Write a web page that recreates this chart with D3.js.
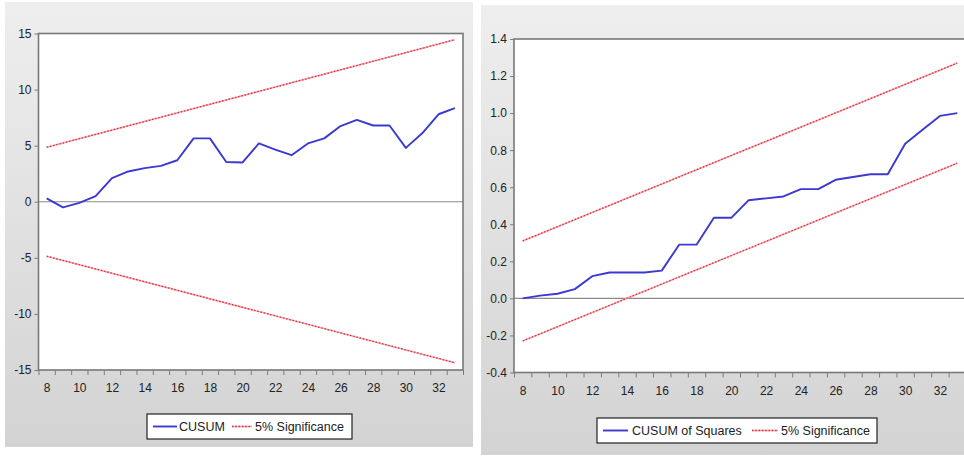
<!DOCTYPE html>
<html>
<head>
<meta charset="utf-8">
<script src="https://cdn.jsdelivr.net/npm/d3@7"></script>
<style>
  html, body { margin: 0; padding: 0; background: #ffffff; }
  svg { display: block; }
  text { font-family: "Liberation Sans", Arial, sans-serif; fill: #222222; }
</style>
</head>
<body>
<svg id="chart" width="964" height="457"></svg>
<script>
// Observation periods
const periods = [8, 9, 10, 11, 12, 13, 14, 15, 16, 17, 18, 19, 20, 21, 22, 23, 24, 25, 26, 27, 28, 29, 30, 31, 32, 33];
const xTickLabels = [8, 10, 12, 14, 16, 18, 20, 22, 24, 26, 28, 30, 32];

// CUSUM statistic
const cusum = [0.3, -0.5, -0.1, 0.5, 2.1, 2.7, 3.0, 3.2, 3.7, 5.65, 5.65, 3.55, 3.5, 5.2, 4.65, 4.15, 5.2, 5.65, 6.75, 7.3, 6.8, 6.8, 4.8, 6.1, 7.8, 8.35];
// 5% significance bounds (straight lines, first and last period)
const bandPeriods = [8, 33];
const cusumUpper = [4.85, 14.45];
const cusumLower = [-4.85, -14.35];
const cusumYTicks = [15, 10, 5, 0, -5, -10, -15];

// CUSUM of squares statistic
const cusumSq = [0.0, 0.015, 0.025, 0.05, 0.12, 0.14, 0.14, 0.14, 0.15, 0.29, 0.29, 0.435, 0.435, 0.53, 0.54, 0.55, 0.59, 0.59, 0.64, 0.655, 0.67, 0.67, 0.835, 0.91, 0.985, 1.0];
const cusumSqUpper = [0.31, 1.27];
const cusumSqLower = [-0.23, 0.73];
const cusumSqYTicks = [1.4, 1.2, 1.0, 0.8, 0.6, 0.4, 0.2, 0.0, -0.2, -0.4];

const svg = d3.select("#chart");

// Panel background gradient
const defs = svg.append("defs");
const grad = defs.append("linearGradient").attr("id", "panelGrad")
  .attr("x1", 0).attr("y1", 0).attr("x2", 0).attr("y2", 1);
grad.append("stop").attr("offset", "0%").attr("stop-color", "#eeeeee");
grad.append("stop").attr("offset", "100%").attr("stop-color", "#d3d3d3");

// plain hyphen for negative numbers
const hyphen = f => d => f(d).replace("\u2212", "-");

function drawPanel(cfg) {
  const g = svg.append("g");
  g.append("rect")
    .attr("x", cfg.panel[0]).attr("y", cfg.panel[1])
    .attr("width", cfg.panel[2]).attr("height", cfg.panel[3])
    .attr("fill", "url(#panelGrad)");

  const x = d3.scaleLinear().domain([7.5, 33.5]).range(cfg.xRange);
  const y = d3.scaleLinear().domain(cfg.yDomain).range(cfg.yRange);

  const clipId = cfg.id + "-clip";
  defs.append("clipPath").attr("id", clipId)
    .append("rect")
    .attr("x", cfg.xRange[0]).attr("y", cfg.yRange[1])
    .attr("width", cfg.xRange[1] - cfg.xRange[0])
    .attr("height", cfg.yRange[0] - cfg.yRange[1]);

  // plot area
  g.append("rect")
    .attr("x", cfg.xRange[0]).attr("y", cfg.yRange[1])
    .attr("width", cfg.xRange[1] - cfg.xRange[0])
    .attr("height", cfg.yRange[0] - cfg.yRange[1])
    .attr("fill", "#ffffff");

  // zero line
  g.append("line")
    .attr("x1", cfg.xRange[0]).attr("x2", cfg.xRange[1])
    .attr("y1", y(0)).attr("y2", y(0))
    .attr("stroke", "#8a8a8a").attr("stroke-width", 1.2);

  const plot = g.append("g").attr("clip-path", `url(#${clipId})`);

  // significance bands
  const bandLine = d3.line().x((d, i) => x(bandPeriods[i])).y(d => y(d));
  [cfg.upper, cfg.lower].forEach(b => {
    plot.append("path").datum(b).attr("d", bandLine)
      .attr("fill", "none").attr("stroke", "#f5a6ad").attr("stroke-width", 1.6);
    plot.append("path").datum(b).attr("d", bandLine)
      .attr("fill", "none").attr("stroke", "#d8323e").attr("stroke-width", 1.3)
      .attr("stroke-dasharray", "1.5,1.8");
  });

  // statistic
  const statLine = d3.line().x((d, i) => x(periods[i])).y(d => y(d));
  plot.append("path").datum(cfg.values).attr("d", statLine)
    .attr("fill", "none").attr("stroke", "#3a3ad0").attr("stroke-width", 1.9)
    .attr("stroke-linejoin", "round");

  // frame
  g.append("rect")
    .attr("x", cfg.xRange[0]).attr("y", cfg.yRange[1])
    .attr("width", cfg.xRange[1] - cfg.xRange[0])
    .attr("height", cfg.yRange[0] - cfg.yRange[1])
    .attr("fill", "none").attr("stroke", "#787878").attr("stroke-width", 1.6);

  // y axis
  const yAxis = d3.axisLeft(y).tickValues(cfg.yTicks).tickSize(4).tickPadding(3)
    .tickFormat(hyphen(cfg.yFormat));
  const ya = g.append("g").attr("transform", `translate(${cfg.xRange[0]},0)`).call(yAxis);
  ya.select(".domain").remove();
  ya.selectAll("line").attr("stroke", "#7d7d7d");
  ya.selectAll("text").attr("font-size", 12).style("font-family", "'Liberation Sans', Arial, sans-serif").attr("fill", "#222222");

  // x axis: ticks between periods, labels on even periods
  const tickPos = d3.range(periods.length + 1).map(i => periods[0] - 0.5 + i);
  const xTicks = d3.axisBottom(x).tickValues(tickPos).tickSize(5).tickFormat("");
  const xa = g.append("g").attr("transform", `translate(0,${cfg.yRange[0]})`).call(xTicks);
  xa.select(".domain").remove();
  xa.selectAll("line").attr("stroke", "#7d7d7d");

  const xLab = d3.axisBottom(x).tickValues(xTickLabels).tickSize(0).tickPadding(cfg.xLabelPad)
    .tickFormat(d3.format("d"));
  const xl = g.append("g").attr("transform", `translate(0,${cfg.yRange[0]})`).call(xLab);
  xl.select(".domain").remove();
  xl.selectAll("text").attr("font-size", 12).style("font-family", "'Liberation Sans', Arial, sans-serif").attr("fill", "#222222");

  // legend
  const L = cfg.legend;
  const lg = g.append("g");
  lg.append("rect").attr("x", L.box[0]).attr("y", L.box[1])
    .attr("width", L.box[2]).attr("height", L.box[3])
    .attr("fill", "#ffffff").attr("stroke", "#222222").attr("stroke-width", 1.2);
  const ly = L.box[1] + L.box[3] / 2;
  lg.append("line").attr("x1", L.blue[0]).attr("x2", L.blue[1]).attr("y1", ly).attr("y2", ly)
    .attr("stroke", "#3a3ad0").attr("stroke-width", 1.9);
  lg.append("text").attr("x", L.label1).attr("y", ly + 4.5).attr("font-size", 12.5).text(cfg.name);
  lg.append("line").attr("x1", L.red[0]).attr("x2", L.red[1]).attr("y1", ly).attr("y2", ly)
    .attr("stroke", "#f5a6ad").attr("stroke-width", 1.6);
  lg.append("line").attr("x1", L.red[0]).attr("x2", L.red[1]).attr("y1", ly).attr("y2", ly)
    .attr("stroke", "#d8323e").attr("stroke-width", 1.3).attr("stroke-dasharray", "1.5,1.8");
  lg.append("text").attr("x", L.label2).attr("y", ly + 4.5).attr("font-size", 12.5).text("5% Significance");
}

drawPanel({
  id: "cusum",
  name: "CUSUM",
  panel: [5, 2, 468, 445],
  xRange: [38.5, 463],
  yRange: [370, 33.5],
  yDomain: [-15, 15],
  yTicks: cusumYTicks,
  yFormat: d3.format("d"),
  xLabelPad: 13,
  values: cusum,
  upper: cusumUpper,
  lower: cusumLower,
  legend: { box: [147, 414, 205, 25], blue: [153, 177], label1: 179, red: [232, 252], label2: 255 }
});

drawPanel({
  id: "cusumsq",
  name: "CUSUM of Squares",
  panel: [481, 5, 483, 450],
  xRange: [514, 966],
  yRange: [372.5, 39],
  yDomain: [-0.4, 1.4],
  yTicks: cusumSqYTicks,
  yFormat: d3.format(".1f"),
  xLabelPad: 14,
  values: cusumSq,
  upper: cusumSqUpper,
  lower: cusumSqLower,
  legend: { box: [597, 418, 280, 25], blue: [603, 628], label1: 632, red: [752, 778], label2: 781 }
});
</script>
</body>
</html>
